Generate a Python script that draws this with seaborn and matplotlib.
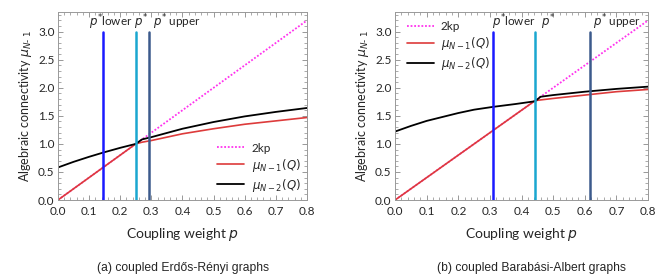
import numpy as np
import pandas as pd
import matplotlib
matplotlib.use("Agg")
import matplotlib.pyplot as plt
import seaborn as sns
from matplotlib.ticker import MultipleLocator

# ---- data ----
k = 2
p_line = [0.0, 0.8]

# (a) Erdos-Renyi
er_p_mu1 = [0.0, 0.25, 0.27, 0.3, 0.4, 0.5, 0.6, 0.7, 0.8]
er_mu1 = [0.0, 1.0, 1.03, 1.06, 1.18, 1.27, 1.35, 1.41, 1.47]
er_p_mu2 = [0.0, 0.05, 0.1, 0.145, 0.2, 0.25, 0.27, 0.3, 0.4, 0.5, 0.6, 0.7, 0.8]
er_mu2 = [0.58, 0.68, 0.77, 0.845, 0.93, 1.0, 1.08, 1.12, 1.27, 1.39, 1.49, 1.57, 1.64]
er_pstar = [0.145, 0.25, 0.292]   # lower, p*, upper
er_label_x = [0.100, 0.243, 0.305]

# (b) Barabasi-Albert
ba_p_mu1 = [0.0, 0.443, 0.5, 0.6, 0.7, 0.8]
ba_mu1 = [0.0, 1.772, 1.81, 1.87, 1.93, 1.97]
ba_p_mu2 = [0.0, 0.05, 0.1, 0.15, 0.2, 0.25, 0.31, 0.38, 0.443, 0.46, 0.5, 0.6, 0.7, 0.8]
ba_mu2 = [1.22, 1.32, 1.41, 1.48, 1.55, 1.61, 1.66, 1.71, 1.76, 1.84, 1.87, 1.93, 1.98, 2.02]
ba_pstar = [0.31, 0.443, 0.615]
ba_label_x = [0.308, 0.46, 0.627]

pstar_names = [r"$p^{*}$lower", r"$p^{*}$", r"$p^{*}$ upper"]
pstar_colors = ["#1a1aff", "#1aa7d0", "#3c5a8c"]

sns.set_style("ticks")
plt.rcParams["font.family"] = ["Lato", "DejaVu Sans"]
plt.rcParams["mathtext.fontset"] = "dejavusans"

fig = plt.figure(figsize=(6.64, 2.75), dpi=100)
ax1 = fig.add_axes([0.0873, 0.2727, 0.375, 0.6836])
ax2 = fig.add_axes([0.595, 0.2727, 0.381, 0.6836])


def draw(ax, p1, m1, p2, m2, pstar, lab_x, legend_loc, legend_anchor):
    sns.lineplot(x=p_line, y=[2 * k * v for v in p_line], ax=ax, color="#ff33ee",
                 linestyle=(0, (1, 1)), linewidth=1.3, label="2kp")
    sns.lineplot(x=p1, y=m1, ax=ax, color="#dd3b3b", linewidth=1.2,
                 sort=False, estimator=None, label=r"$\mu_{N-1}(Q)$")
    sns.lineplot(x=p2, y=m2, ax=ax, color="black", linewidth=1.3,
                 sort=False, estimator=None, label=r"$\mu_{N-2}(Q)$")
    for xv, lx, name, c in zip(pstar, lab_x, pstar_names, pstar_colors):
        ax.plot([xv, xv], [0, 3.0], color=c, linewidth=1.8)
        ax.text(lx, 3.16, name, fontsize=8.5, ha="left", va="center")
    ax.set_xlim(0, 0.8)
    ax.set_ylim(0, 3.35)
    ax.xaxis.set_major_locator(MultipleLocator(0.1))
    ax.xaxis.set_minor_locator(MultipleLocator(0.02))
    ax.yaxis.set_major_locator(MultipleLocator(0.5))
    ax.yaxis.set_minor_locator(MultipleLocator(0.1))
    ax.tick_params(which="both", direction="in", top=True, right=True,
                   color="#888888", labelsize=8.5)
    ax.tick_params(axis="x", pad=4)
    ax.tick_params(axis="y", pad=2.5)
    ax.tick_params(which="major", length=3.5, width=0.6)
    ax.tick_params(which="minor", length=2, width=0.5)
    for s in ax.spines.values():
        s.set_color("#999999")
        s.set_linewidth(0.7)
    ax.set_xlabel(r"Coupling weight $p$", fontsize=10, labelpad=7)
    ax.set_ylabel("Algebraic connectivity " + r"$\mu_{N\text{- }1}$", fontsize=9, labelpad=3)
    ax.legend(loc=legend_loc, bbox_to_anchor=legend_anchor, frameon=False,
              fontsize=8.5, handlelength=2.3, handletextpad=0.6,
              labelspacing=0.25, borderaxespad=0.15)


draw(ax1, er_p_mu1, er_mu1, er_p_mu2, er_mu2, er_pstar, er_label_x,
     "lower right", (1.0, 0.0))
draw(ax2, ba_p_mu1, ba_mu1, ba_p_mu2, ba_mu2, ba_pstar, ba_label_x,
     "upper left", (0.02, 0.985))

fig.text(0.275, 0.025, "(a) coupled Erdős-Rényi graphs", fontsize=8.7,
         ha="center", va="center", family="Liberation Sans")
fig.text(0.80, 0.025, "(b) coupled Barabási-Albert graphs", fontsize=8.7,
         ha="center", va="center", family="Liberation Sans")

fig.savefig("out.png", dpi=100)
